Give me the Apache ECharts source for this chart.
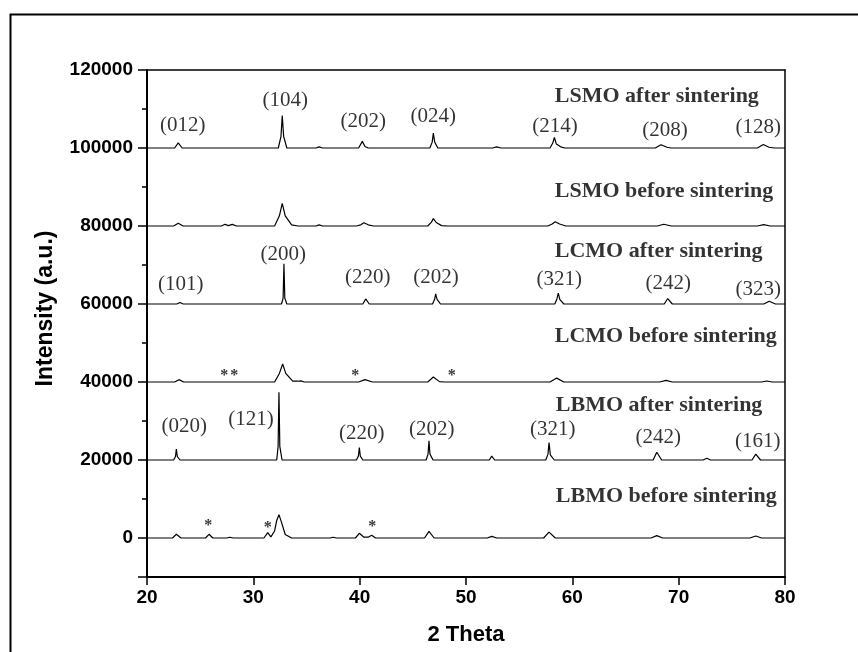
<!DOCTYPE html>
<html>
<head>
<meta charset="utf-8">
<script src="https://cdn.jsdelivr.net/npm/echarts@6/dist/echarts.min.js"></script>
<style>
  html, body { margin: 0; padding: 0; background: #fff; }
  #chart { width: 858px; height: 652px; }
</style>
</head>
<body>
<div id="chart"></div>
<script>
// traces as [2theta, intensity] vertices (offsets already in)
var lsmoAfter = [[20,100000],[22.6,100000],[22.94,101300],[23.3,100000],
  [32.35,100000],[32.6,103000],[32.72,108300],[32.85,103000],[33.15,100000],
  [35.9,100000],[36.18,100300],[36.5,100000],
  [39.9,100000],[40.25,101700],[40.5,100400],[40.8,100000],
  [46.6,100000],[46.82,101500],[46.93,103800],[47.06,101500],[47.35,100000],
  [52.5,100000],[52.89,100300],[53.3,100000],
  [57.9,100000],[58.15,101200],[58.31,102700],[58.5,101000],[58.9,100300],[59.3,100000],
  [67.8,100000],[68.34,100850],[68.9,100200],[69.3,100000],
  [77.4,100000],[77.96,100900],[78.5,100200],[79,100000],[80,100000]];

var lsmoBefore = [[20,80000],[22.5,80000],[22.94,80700],[23.4,80000],
  [27.0,80000],[27.34,80430],[27.65,80100],[28.02,80430],[28.4,80000],
  [32.0,80000],[32.45,82600],[32.72,85800],[33.0,82600],[33.6,80300],[34.2,80000],
  [35.9,80000],[36.18,80300],[36.5,80000],
  [39.7,80000],[40.1,80300],[40.4,80850],[40.8,80300],[41.3,80000],
  [46.4,80000],[46.75,81000],[46.93,81900],[47.2,80900],[47.7,80100],[48.3,80000],
  [57.7,80000],[58.1,80500],[58.4,81100],[58.8,80500],[59.4,80000],
  [68.0,80000],[68.6,80450],[69.3,80000],
  [77.4,80000],[78.0,80350],[78.6,80000],[80,80000]];

var lcmoAfter = [[20,60000],[22.8,60000],[23.1,60400],[23.4,60000],
  [32.65,60000],[32.8,61500],[32.88,70300],[32.96,61500],[33.15,60000],
  [40.3,60000],[40.57,61300],[40.9,60000],
  [46.85,60000],[47.05,61200],[47.15,62600],[47.28,61200],[47.6,60000],
  [58.35,60000],[58.55,61300],[58.68,62800],[58.82,61200],[59.2,60000],
  [68.65,60000],[68.97,61400],[69.4,60000],
  [78.0,60000],[78.52,60700],[79.1,60000],[80,60000]];

var lcmoBefore = [[20,40000],[22.6,40000],[23.01,40600],[23.45,40000],
  [32.0,40000],[32.45,42200],[32.76,44600],[33.05,42200],[33.7,40200],
  [34.2,40200],[34.46,40300],[34.8,40000],
  [39.9,40000],[40.5,40600],[41.2,40000],
  [46.4,40000],[46.93,41300],[47.5,40100],[48.0,40000],
  [57.9,40000],[58.53,41000],[59.2,40000],
  [68.2,40000],[68.81,40430],[69.4,40000],
  [77.8,40000],[78.28,40260],[78.8,40000],[80,40000]];

var lbmoAfter = [[20,20000],[22.5,20000],[22.68,20900],[22.76,22800],[22.85,20900],[23.1,20000],
  [32.2,20000],[32.33,23500],[32.41,37400],[32.49,23500],[32.7,20000],
  [39.7,20000],[39.88,21000],[39.97,23200],[40.06,21000],[40.3,20000],
  [46.25,20000],[46.43,21500],[46.52,24900],[46.61,21500],[46.9,20000],
  [52.2,20000],[52.42,21000],[52.7,20000],
  [57.5,20000],[57.71,21500],[57.81,24500],[57.93,21300],[58.3,20000],
  [67.6,20000],[67.94,22000],[68.4,20000],
  [72.3,20000],[72.64,20430],[73.0,20000],
  [76.9,20000],[77.25,21500],[77.7,20000],[80,20000]];

var lbmoBefore = [[20,0],[22.4,0],[22.76,950],[23.2,0],
  [25.5,0],[25.83,950],[26.2,0],
  [27.5,0],[27.8,200],[28.1,0],
  [31.0,0],[31.35,1400],[31.65,300],[32.0,1800],[32.2,4500],[32.41,6000],[32.65,4000],[33.0,900],[33.6,0],
  [37.2,0],[37.49,200],[37.8,0],
  [39.6,0],[39.97,1200],[40.4,200],[40.8,200],[41.13,700],[41.5,0],
  [46.1,0],[46.52,1700],[47.0,0],
  [52.0,0],[52.42,430],[52.9,0],
  [57.3,0],[57.81,1500],[58.4,0],
  [67.4,0],[67.94,600],[68.5,0],
  [76.7,0],[77.25,500],[77.8,0],[80,0]];

// annotations: [2theta, intensity, text]
var hklLabels = [
  [23.36,105900,'(012)'],[33.0,112300,'(104)'],[40.34,106700,'(202)'],[46.93,108200,'(024)'],
  [58.37,105500,'(214)'],[68.72,104600,'(208)'],[77.49,105200,'(128)'],
  [23.17,64900,'(101)'],[32.82,72700,'(200)'],[40.76,66800,'(220)'],[47.18,66800,'(202)'],
  [58.78,66200,'(321)'],[69.03,65300,'(242)'],[77.49,63800,'(323)'],
  [23.5,28700,'(020)'],[29.78,30400,'(121)'],[40.19,26800,'(220)'],[46.77,27900,'(202)'],
  [58.15,27900,'(321)'],[68.09,25800,'(242)'],[77.43,24700,'(161)']
];
var sampleNames = [
  [58.35,113300,'LSMO after sintering'],
  [58.35,89000,'LSMO before sintering'],
  [58.35,73400,'LCMO after sintering'],
  [58.35,51600,'LCMO before sintering'],
  [58.45,34100,'LBMO after sintering'],
  [58.45,10600,'LBMO before sintering']
];
var stars = [
  [27.27,41500],[28.21,41500],[39.59,41500],[48.66,41500],
  [25.77,3100],[31.35,2600],[41.19,2900]
];

var traces = [lbmoBefore, lbmoAfter, lcmoBefore, lcmoAfter, lsmoBefore, lsmoAfter];

var series = traces.map(function (d) {
  return {
    type: 'line', data: d, symbol: 'none', silent: true,
    lineStyle: { color: '#000', width: 1.2 }
  };
});

series.push({
  type: 'scatter', data: hklLabels, symbolSize: 0, silent: true,
  label: {
    show: true, position: 'inside', color: '#000',
    fontFamily: 'Liberation Serif', fontSize: 21,
    formatter: function (p) { return p.value[2]; }
  }
});
series.push({
  type: 'scatter', data: sampleNames, symbolSize: 0, silent: true,
  label: {
    show: true, position: 'right', distance: 0, color: '#000',
    fontFamily: 'Liberation Serif', fontWeight: 'bold', fontSize: 22,
    formatter: function (p) { return p.value[2]; }
  }
});
series.push({
  type: 'scatter', data: stars, symbolSize: 0, silent: true,
  label: {
    show: true, position: 'inside', color: '#000',
    fontFamily: 'Liberation Serif', fontWeight: 'bold', fontSize: 16,
    formatter: '*'
  }
});

var axisFont = { color: '#000', fontFamily: 'Liberation Sans', fontWeight: 'bold', fontSize: 19 };

var option = {
  backgroundColor: '#fff',
  animation: false,
  grid: { left: 147, right: 73, top: 70, bottom: 75 },
  graphic: [{
    type: 'rect', left: 8, top: 12, z: 100,
    shape: { width: 900, height: 700 },
    style: { fill: null, stroke: '#000', lineWidth: 2 }
  }],
  xAxis: [{
    type: 'value', min: 20, max: 80, interval: 10,
    name: '2 Theta', nameLocation: 'middle', nameGap: 47,
    nameTextStyle: { color: '#000', fontFamily: 'Liberation Sans', fontWeight: 'bold', fontSize: 22 },
    axisLine: { show: true, onZero: false, lineStyle: { color: '#000', width: 2 } },
    axisTick: { show: true, length: 8, lineStyle: { color: '#000', width: 1.5 } },
    axisLabel: Object.assign({ margin: 11 }, axisFont),
    splitLine: { show: false }
  }, {
    type: 'value', min: 20, max: 80, position: 'top',
    axisLine: { show: true, onZero: false, lineStyle: { color: '#000', width: 1.5 } },
    axisTick: { show: false }, axisLabel: { show: false }, splitLine: { show: false }
  }],
  yAxis: [{
    type: 'value', min: -10000, max: 120000, splitNumber: 6,
    name: 'Intensity (a.u.)', nameLocation: 'middle', nameGap: 90,
    nameTextStyle: {
      color: '#000', fontFamily: 'Liberation Sans', fontWeight: 'bold', fontSize: 23,
      padding: [0, 0, 0, 30]
    },
    axisLine: { show: true, onZero: false, lineStyle: { color: '#000', width: 2 } },
    axisTick: { show: true, length: 9, lineStyle: { color: '#000', width: 1.5 } },
    minorTick: { show: true, splitNumber: 2, length: 5, lineStyle: { color: '#000', width: 1.5 } },
    axisLabel: Object.assign({
      margin: 14,
      formatter: function (v) { return v % 20000 === 0 ? String(v) : ''; }
    }, axisFont),
    splitLine: { show: false }
  }, {
    type: 'value', min: -10000, max: 120000, position: 'right',
    axisLine: { show: true, onZero: false, lineStyle: { color: '#000', width: 1.5 } },
    axisTick: { show: false }, axisLabel: { show: false }, splitLine: { show: false }
  }],
  series: series
};

var myChart = echarts.init(document.getElementById('chart'));
myChart.setOption(option);
</script>
</body>
</html>
